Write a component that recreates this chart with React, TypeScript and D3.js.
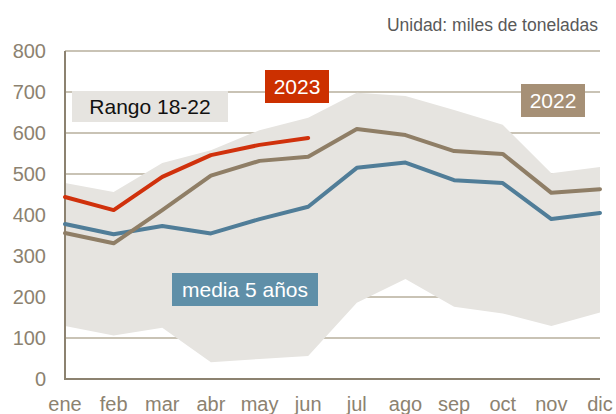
import React from "react";
import * as d3 from "d3";

// Monthly values, thousand tonnes
const months = ["ene", "feb", "mar", "abr", "may", "jun", "jul", "ago", "sep", "oct", "nov", "dic"];
const rangeHigh = [478, 456, 527, 558, 607, 637, 698, 690, 656, 620, 502, 517];
const rangeLow = [129, 106, 125, 41, 49, 56, 186, 244, 176, 160, 129, 162];
const serie2022 = [356, 331, 412, 496, 532, 542, 610, 595, 556, 549, 454, 463];
const media5 = [378, 353, 373, 355, 390, 420, 515, 528, 485, 478, 390, 405];
const serie2023 = [444, 412, 493, 546, 571, 588];
const yTicks = [0, 100, 200, 300, 400, 500, 600, 700, 800];

const W = 616,
  H = 414;
const FONT = "'Liberation Sans', Arial, sans-serif";

export default function App() {
  const x = d3.scalePoint<string>().domain(months).range([65, 600]);
  const y = d3.scaleLinear().domain([0, 800]).range([379, 51]);

  const area = d3
    .area<number>()
    .x((_, i) => x(months[i]) as number)
    .y0((_, i) => y(rangeLow[i]))
    .y1((d) => y(d));

  const line = d3
    .line<number>()
    .x((_, i) => x(months[i]) as number)
    .y((d) => y(d));

  return (
    <svg
      width={W}
      height={H}
      style={{ position: "absolute", left: 0, top: 0, fontFamily: FONT }}
    >
      <text x={598} y={31} textAnchor="end" fontSize={17.5} fill="#595959">
        Unidad: miles de toneladas
      </text>

      {/* gridlines */}
      {yTicks
        .filter((t) => t > 0)
        .map((t) => (
          <line key={t} x1={65} x2={600} y1={y(t)} y2={y(t)} stroke="#c9c3b5" strokeWidth={2} />
        ))}

      {/* range band */}
      <path d={area(rangeHigh) || ""} fill="#e6e4e0" />

      {/* axes */}
      <line x1={65} x2={65} y1={y(800)} y2={y(0)} stroke="#8c8270" strokeWidth={2} />
      <line x1={64} x2={600} y1={y(0)} y2={y(0)} stroke="#8c8270" strokeWidth={2} />

      {yTicks.map((t) => (
        <text key={t} x={46} y={y(t) + 7} textAnchor="end" fontSize={20} fill="#8c8270">
          {t}
        </text>
      ))}
      {months.map((m) => (
        <text key={m} x={x(m)} y={411} textAnchor="middle" fontSize={20} fill="#8c8270">
          {m}
        </text>
      ))}

      {/* series */}
      <path d={line(media5) || ""} fill="none" stroke="#507d98" strokeWidth={4} strokeLinecap="round" strokeLinejoin="round" />
      <path d={line(serie2022) || ""} fill="none" stroke="#8f7e66" strokeWidth={4} strokeLinecap="round" strokeLinejoin="round" />
      <path d={line(serie2023) || ""} fill="none" stroke="#d0310c" strokeWidth={4} strokeLinecap="round" strokeLinejoin="round" />

      {/* labels */}
      <rect x={72} y={91} width={156} height={31} fill="#e6e4e0" />
      <text x={150} y={114} textAnchor="middle" fontSize={21} fill="#111">
        Rango 18-22
      </text>

      <rect x={265} y={70} width={64} height={33} fill="#cc3000" />
      <text x={297} y={94} textAnchor="middle" fontSize={21} fill="#fff">
        2023
      </text>

      <rect x={521} y={84} width={64} height={33} fill="#a69076" />
      <text x={553} y={108} textAnchor="middle" fontSize={21} fill="#fff">
        2022
      </text>

      <rect x={172} y={273} width={146} height={33} fill="#5f8fa8" />
      <text x={245} y={297} textAnchor="middle" fontSize={21} fill="#fff">
        media 5 años
      </text>
    </svg>
  );
}
